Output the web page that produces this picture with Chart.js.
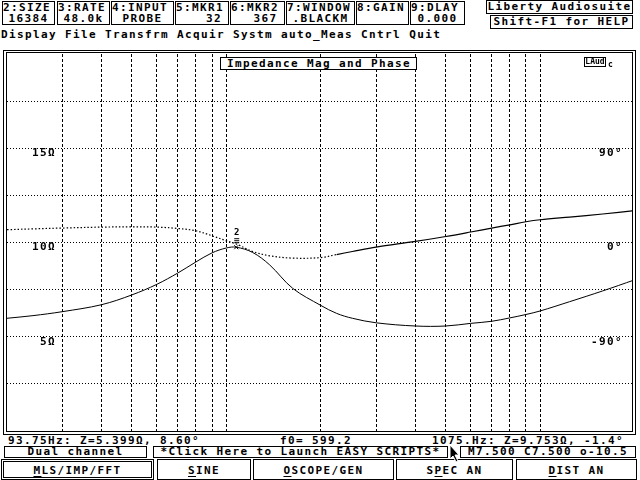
<!DOCTYPE html>
<html>
<head>
<meta charset="utf-8">
<script src="https://cdn.jsdelivr.net/npm/chart.js@4.4.1/dist/chart.umd.min.js"></script>
<style>
  html, body { margin: 0; padding: 0; background: #fff; }
  body { position: relative; width: 640px; height: 480px; overflow: hidden; color: #000;
         font: bold 11px 'DejaVu Sans Mono', monospace; letter-spacing: 1.38px; }
  .box { position: absolute; border: 1px solid #000; box-sizing: border-box; }
  .txt { position: absolute; white-space: pre; line-height: 11px; }
  .top { top: 1px; height: 24px; }
  .top div { white-space: pre; line-height: 11px; }
  .top .v { text-align: center; }
  .c { text-align: center; white-space: pre; }
  .btn { top: 459px; height: 21px; text-align: center; padding-top: 2px; line-height: 17px; }
  .btn u { text-underline-offset: 2px; }
</style>
</head>
<body>
<!-- parameter boxes -->
<div class="box top" style="left:2px;width:53px"><div>2:SIZE</div><div class="v">16384</div></div>
<div class="box top" style="left:57px;width:53px"><div>3:RATE</div><div class="v">48.0k</div></div>
<div class="box top" style="left:111px;width:63px"><div>4:INPUT</div><div class="v">PROBE</div></div>
<div class="box top" style="left:175px;width:54px"><div>5:MKR1</div><div class="v">   32</div></div>
<div class="box top" style="left:230px;width:55px"><div>6:MKR2</div><div class="v">  367</div></div>
<div class="box top" style="left:286px;width:69px"><div>7:WINDOW</div><div class="v">.BLACKM</div></div>
<div class="box top" style="left:356px;width:53px"><div>8:GAIN</div><div class="v"> </div></div>
<div class="box top" style="left:410px;width:55px"><div>9:DLAY</div><div class="v">0.000</div></div>

<div class="box c" style="left:486px;top:0;width:147px;height:14px;line-height:12px">Liberty Audiosuite</div>
<div class="box c" style="left:490px;top:15px;width:143px;height:14px;line-height:12px">Shift-F1 for HELP</div>

<div class="txt" style="left:1px;top:29px">Display File Transfrm Acquir Systm auto_Meas Cntrl Quit</div>

<!-- plot frame -->
<div class="box" style="left:3px;top:50px;width:633px;height:385px"></div>
<div class="box" style="left:6px;top:52px;width:627px;height:380px"></div>
<canvas id="chart" width="625" height="377" style="position:absolute;left:7px;top:54px"></canvas>

<div class="box" style="left:220px;top:57px;width:197px;height:13px;background:#fff;line-height:11px;padding-left:6px;white-space:pre">Impedance Mag and Phase</div>
<div class="box c" style="left:584px;top:57px;width:22px;height:10px;font-size:8px;line-height:8px;letter-spacing:0;background:#fff">LAud</div>
<div class="txt" style="left:608px;top:61px;font-size:8px;line-height:8px;letter-spacing:0">c</div>

<!-- status -->
<div class="txt" style="left:8px;top:435px">93.75Hz: Z=5.399Ω, 8.60°</div>
<div class="txt" style="left:280px;top:435px">f0= 599.2</div>
<div class="txt" style="left:432px;top:435px">1075.Hz: Z=9.753Ω, -1.4°</div>

<div class="box c" style="left:4px;top:446px;width:143px;height:12px;line-height:10px">Dual channel</div>
<div class="box c" style="left:153px;top:446px;width:295px;height:12px;line-height:10px">*Click Here to Launch EASY SCRIPTS*</div>
<div class="box c" style="left:460px;top:446px;width:176px;height:12px;line-height:10px">M7.500 C7.500 o-10.5</div>

<div class="box btn" style="left:1px;width:153px;box-shadow:inset 0 0 0 1px #fff, inset 0 0 0 2px #000"><u>M</u>LS/IMP/FFT</div>
<div class="box btn" style="left:157px;width:94px"><u>S</u>INE</div>
<div class="box btn" style="left:253px;width:141px"><u>O</u>SCOPE/GEN</div>
<div class="box btn" style="left:396px;width:117px">S<u>P</u>EC AN</div>
<div class="box btn" style="left:516px;width:121px"><u>D</u>IST AN</div>

<svg width="14" height="20" style="position:absolute;left:449px;top:444px">
  <polygon points="1,1 1,15 4,12 7,18 9,17 6,11 10,11" fill="#000" stroke="#fff" stroke-width="1"/>
</svg>

<script>
// impedance sweep
const freqHz = [200, 242, 300, 400, 500, 600, 700, 800, 900, 1000, 1075, 1213, 1374, 1626, 2000,
                2245, 2520, 3000, 4000, 5000, 6000, 7000, 8000, 9000, 10000, 12400, 15800, 20000];
const impedanceOhm = [5.98, 6.12, 6.33, 6.70, 7.22, 7.78, 8.38, 8.97, 9.45, 9.71, 9.75, 9.47, 8.81, 7.57, 6.66,
                      6.24, 5.98, 5.74, 5.57, 5.57, 5.71, 5.82, 6.00, 6.18, 6.37, 6.86, 7.43, 8.02];
const phaseDeg = [12.2, 13.0, 13.8, 14.7, 14.9, 14.7, 13.4, 11.2, 6.4, 1.6, -1.4, -8.6, -12.7, -14.9, -14.4,
                  -11.5, -8.6, -4.4, 1.0, 5.7, 10.0, 13.8, 16.9, 19.8, 21.7, 24.3, 27.2, 30.4];
const markerFreq = 1075;

// axes
const gridFreqs = [200, 300, 400, 500, 600, 700, 800, 900, 1000, 2000, 3000, 4000, 5000, 6000, 7000, 8000, 9000, 10000];
const freqLabels = ['200', '', '', '', '', '', '', '', '1k', '2k', '', '', '', '', '', '', '', '10k'];
const ohmTicks = [0, 2.5, 5, 7.5, 10, 12.5, 15, 17.5, 20];
const ohmLabels = ['', '', '5Ω', '', '10Ω', '', '15Ω', '', ''];
const degTicks = [-180, -90, 0, 90, 180];
const degLabels = ['', '-90°', '0°', '90°', ''];

Chart.defaults.font.family = "'DejaVu Sans Mono', monospace";
Chart.defaults.font.size = 11;
Chart.defaults.font.weight = 'bold';
Chart.defaults.color = '#000';

// scales take no room: labels sit inside the plot like the DOS screen
const noSize = s => {
  if (s.isHorizontal()) s.height = 0; else s.width = 0;
  s.paddingTop = s.paddingBottom = s.paddingLeft = s.paddingRight = 0;
};
const hideEdge = (lo, hi) => c => (c.tick && (c.tick.value === lo || c.tick.value === hi)) ? 'rgba(0,0,0,0)' : '#000';

const markerPlugin = {
  id: 'marker',
  beforeDraw(chart) { chart.ctx.letterSpacing = '1.4px'; },
  afterDatasetsDraw(chart) {
    const pt = chart.getDatasetMeta(0).data[freqHz.indexOf(markerFreq)];
    const ctx = chart.ctx;
    ctx.save();
    ctx.letterSpacing = '0px';
    ctx.strokeStyle = '#000';
    ctx.lineWidth = 1;
    ctx.beginPath();
    ctx.moveTo(pt.x - 2, pt.y - 2); ctx.lineTo(pt.x + 2, pt.y + 2);
    ctx.moveTo(pt.x + 2, pt.y - 2); ctx.lineTo(pt.x - 2, pt.y + 2);
    for (let k = 0; k < 3; k++) { ctx.moveTo(pt.x - 2, pt.y - 5 - 2 * k + 0.5); ctx.lineTo(pt.x + 3, pt.y - 5 - 2 * k + 0.5); }
    ctx.stroke();
    ctx.font = 'bold 9px DejaVu Sans Mono';
    ctx.textAlign = 'center';
    ctx.textBaseline = 'bottom';
    ctx.fillText('2', pt.x + 0.5, pt.y - 10);
    ctx.restore();
  }
};

new Chart(document.getElementById('chart'), {
  type: 'line',
  data: {
    datasets: [{
      label: 'Impedance Mag',
      data: freqHz.map((f, i) => ({ x: f, y: impedanceOhm[i] })),
      yAxisID: 'y',
      borderColor: '#000',
      borderWidth: 1,
      pointRadius: 0,
      tension: 0.35
    }, {
      label: 'Phase',
      data: freqHz.map((f, i) => ({ x: f, y: phaseDeg[i] })),
      yAxisID: 'y2',
      borderColor: '#000',
      borderWidth: 1.2,
      pointRadius: 0,
      tension: 0.35,
      segment: { borderDash: c => c.p0.parsed.x < 2200 ? [1.5, 2] : [] }
    }]
  },
  options: {
    responsive: false,
    animation: false,
    devicePixelRatio: 1,
    layout: { padding: 0 },
    plugins: { legend: { display: false }, tooltip: { enabled: false } },
    scales: {
      x: {
        type: 'logarithmic', position: 'bottom', min: 200, max: 19600,
        afterBuildTicks: s => { s.ticks = gridFreqs.map(v => ({ value: v })); },
        afterFit: noSize,
        ticks: { autoSkip: false, maxRotation: 0, align: 'start', padding: -15, labelOffset: 4,
                 callback: (v, i) => freqLabels[i] },
        grid: { color: hideEdge(200, 200), drawTicks: false, lineWidth: 1 },
        border: { display: false, dash: [3, 2] }
      },
      y: {
        type: 'linear', position: 'left', min: 0, max: 20,
        afterBuildTicks: s => { s.ticks = ohmTicks.map(v => ({ value: v })); },
        afterFit: noSize,
        ticks: { mirror: true, crossAlign: 'far', padding: 25, labelOffset: 5,
                 callback: (v, i) => ohmLabels[i] },
        grid: { color: hideEdge(0, 20), drawTicks: false, lineWidth: 1 },
        border: { display: false, dash: [1, 2] }
      },
      y2: {
        type: 'linear', position: 'right', min: -180, max: 180,
        afterBuildTicks: s => { s.ticks = degTicks.map(v => ({ value: v })); },
        afterFit: noSize,
        ticks: { mirror: true, crossAlign: 'near', padding: -9, labelOffset: 5,
                 callback: (v, i) => degLabels[i] },
        grid: { display: false },
        border: { display: false }
      }
    }
  },
  plugins: [markerPlugin]
});
</script>
</body>
</html>
